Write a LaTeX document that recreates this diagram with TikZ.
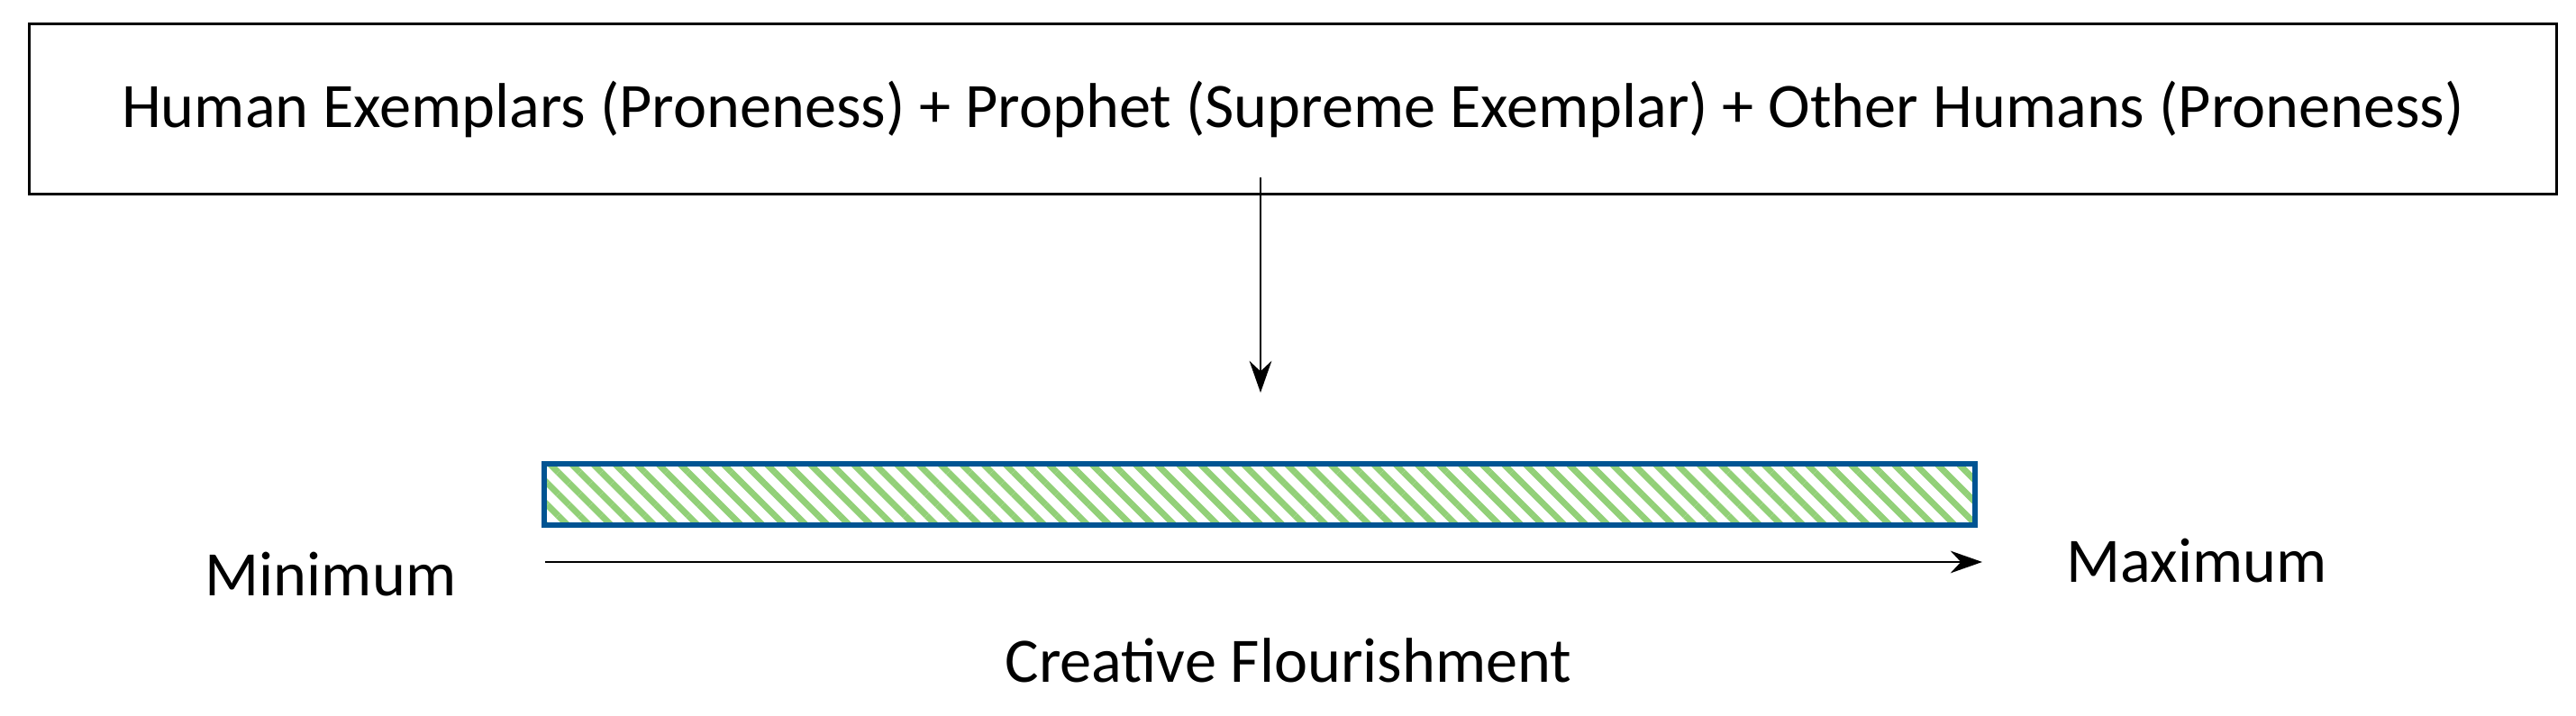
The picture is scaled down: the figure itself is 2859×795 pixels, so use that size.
\documentclass[tikz,border=0pt]{standalone}
\usepackage{fontspec}
\setmainfont{Carlito}
\usetikzlibrary{arrows.meta, patterns.meta}
\definecolor{barblue}{RGB}{0,84,147}
\definecolor{hatchgreen}{RGB}{146,208,120}

\begin{document}
\begin{tikzpicture}[x=0.01cm, y=-0.01cm,
    every node/.style={font=\fontsize{20}{24}\selectfont},
    >={Stealth[length=10pt,width=7pt]}]
\useasboundingbox (0,0) rectangle (2859,795);

\node[draw, thick, minimum width=28.04cm, minimum height=1.89cm] (top) at (1435,121)
  {Human Exemplars (Proneness) + Prophet (Supreme Exemplar) + Other Humans (Proneness)};

\coordinate (tip) at (1399,436);
\node[draw=barblue, line width=0.06cm, inner sep=0pt,
      minimum width=15.87cm, minimum height=0.68cm,
      pattern={Lines[angle=-45, distance=0.17cm, line width=0.07cm]},
      pattern color=hatchgreen] (bar) at (1398,549) {};

\coordinate (axisL) at (605,624);
\coordinate (axisR) at (2200,624);
\node (min) at (367,638) {Minimum};
\node (max) at (2438,623) {Maximum};
\node (lbl) at (1430,733) {Creative Flourishment};

\draw[->, thick] (top.south -| tip) ++(0,-20) -- (tip);
\draw[->, thick] (axisL) -- (axisR);
\end{tikzpicture}
\end{document}
